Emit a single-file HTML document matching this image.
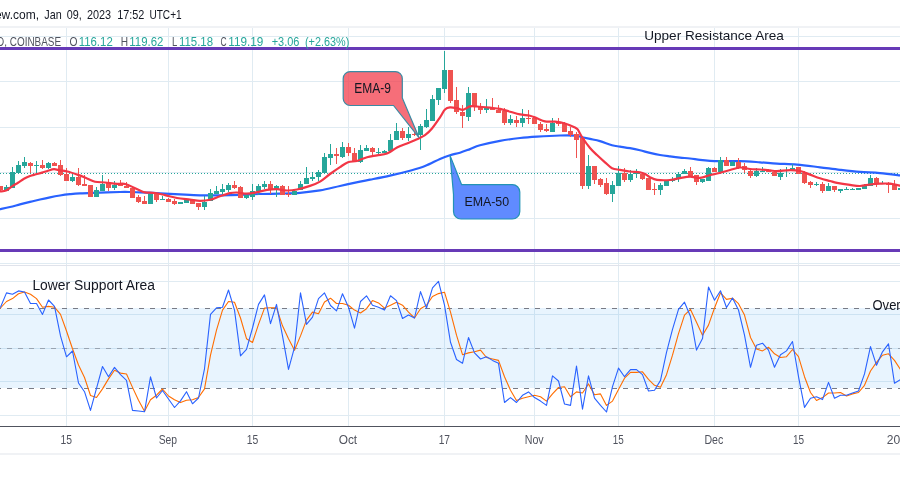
<!DOCTYPE html>
<html><head><meta charset="utf-8"><title>Chart</title>
<style>
html,body{margin:0;padding:0;background:#ffffff;width:900px;height:489px;overflow:hidden;}
svg{display:block;font-family:"Liberation Sans",sans-serif;will-change:transform;}
</style></head><body>
<svg width="900" height="489" viewBox="0 0 900 489" font-family="Liberation Sans, sans-serif" shape-rendering="crispEdges">
<rect x="0" y="0" width="900" height="489" fill="#ffffff"/>
<rect x="0" y="26" width="900" height="2" fill="#f0f2f5"/>
<rect x="66" y="28" width="1" height="398" fill="#e0ebf2"/>
<rect x="168" y="28" width="1" height="398" fill="#e0ebf2"/>
<rect x="252" y="28" width="1" height="398" fill="#e0ebf2"/>
<rect x="348" y="28" width="1" height="398" fill="#e0ebf2"/>
<rect x="444" y="28" width="1" height="398" fill="#e0ebf2"/>
<rect x="534" y="28" width="1" height="398" fill="#e0ebf2"/>
<rect x="618" y="28" width="1" height="398" fill="#e0ebf2"/>
<rect x="714" y="28" width="1" height="398" fill="#e0ebf2"/>
<rect x="798" y="28" width="1" height="398" fill="#e0ebf2"/>
<rect x="0" y="36" width="900" height="1" fill="#e0ebf2"/>
<rect x="0" y="81" width="900" height="1" fill="#e0ebf2"/>
<rect x="0" y="127" width="900" height="1" fill="#e0ebf2"/>
<rect x="0" y="172" width="900" height="1" fill="#e0ebf2"/>
<rect x="0" y="218" width="900" height="1" fill="#e0ebf2"/>
<rect x="0" y="263" width="900" height="1" fill="#e0ebf2"/>
<rect x="0" y="265" width="900" height="1" fill="#e0e3eb"/>
<rect x="0" y="281" width="900" height="1" fill="#e0ebf2"/>
<rect x="0" y="314" width="900" height="1" fill="#e0ebf2"/>
<rect x="0" y="348" width="900" height="1" fill="#e0ebf2"/>
<rect x="0" y="381" width="900" height="1" fill="#e0ebf2"/>
<rect x="0" y="415" width="900" height="1" fill="#e0ebf2"/>
<rect x="0" y="308" width="900" height="80" fill="#2196f3" fill-opacity="0.1"/>
<line x1="0" y1="308.5" x2="900" y2="308.5" stroke="#787b86" stroke-width="1" stroke-dasharray="5 6" stroke-dashoffset="4"/>
<line x1="0" y1="348.5" x2="900" y2="348.5" stroke="#787b86" stroke-opacity="0.6" stroke-width="1" stroke-dasharray="5 6" stroke-dashoffset="4"/>
<line x1="0" y1="388.5" x2="900" y2="388.5" stroke="#787b86" stroke-width="1" stroke-dasharray="5 6" stroke-dashoffset="4"/>
<rect x="0" y="426" width="900" height="1" fill="#50535e"/>
<rect x="0" y="453" width="900" height="2" fill="#f0f2f5"/>
<line x1="0" y1="173.5" x2="900" y2="173.5" stroke="#26a69a" stroke-width="1" stroke-dasharray="1 2" stroke-dashoffset="0"/>
<path d="M-2,209.6 C-1.67,209.53 -2.00,209.63 0,209.2 C2.00,208.77 6.67,207.80 10,207 C13.33,206.20 16.67,205.25 20,204.4 C23.33,203.55 26.67,202.72 30,201.9 C33.33,201.08 36.67,200.27 40,199.5 C43.33,198.73 46.67,197.97 50,197.3 C53.33,196.63 56.67,196.02 60,195.5 C63.33,194.98 66.67,194.55 70,194.2 C73.33,193.85 75.00,193.65 80,193.4 C85.00,193.15 93.33,192.93 100,192.7 C106.67,192.47 115.00,192.12 120,192 C125.00,191.88 126.67,191.93 130,192 C133.33,192.07 135.00,192.18 140,192.4 C145.00,192.62 153.33,192.97 160,193.3 C166.67,193.63 173.33,194.07 180,194.4 C186.67,194.73 193.33,195.15 200,195.3 C206.67,195.45 213.33,195.37 220,195.3 C226.67,195.23 233.33,195.12 240,194.9 C246.67,194.68 253.33,194.22 260,194 C266.67,193.78 273.33,193.80 280,193.6 C286.67,193.40 293.33,193.33 300,192.8 C306.67,192.27 313.33,191.53 320,190.4 C326.67,189.27 333.33,187.47 340,186 C346.67,184.53 355.00,182.65 360,181.6 C365.00,180.55 365.00,180.70 370,179.7 C375.00,178.70 383.33,177.10 390,175.6 C396.67,174.10 404.17,172.28 410,170.7 C415.83,169.12 420.00,168.07 425,166.1 C430.00,164.13 435.83,160.72 440,158.9 C444.17,157.08 446.67,156.23 450,155.2 C453.33,154.17 456.67,153.72 460,152.7 C463.33,151.68 466.67,150.33 470,149.1 C473.33,147.87 475.00,146.68 480,145.3 C485.00,143.92 493.33,142.02 500,140.8 C506.67,139.58 513.83,138.70 520,138 C526.17,137.30 530.33,137.02 537,136.6 C543.67,136.18 553.67,135.67 560,135.5 C566.33,135.33 571.33,135.32 575,135.6 C578.67,135.88 579.50,136.65 582,137.2 C584.50,137.75 587.00,138.25 590,138.9 C593.00,139.55 596.33,140.03 600,141.1 C603.67,142.17 608.67,144.38 612,145.3 C615.33,146.22 617.00,146.12 620,146.6 C623.00,147.08 626.67,147.58 630,148.2 C633.33,148.82 636.67,149.52 640,150.3 C643.33,151.08 646.67,152.12 650,152.9 C653.33,153.68 656.67,154.42 660,155 C663.33,155.58 666.67,155.97 670,156.4 C673.33,156.83 676.67,157.25 680,157.6 C683.33,157.95 686.67,158.12 690,158.5 C693.33,158.88 696.67,159.52 700,159.9 C703.33,160.28 706.67,160.60 710,160.8 C713.33,161.00 715.00,161.05 720,161.1 C725.00,161.15 733.33,160.90 740,161.1 C746.67,161.30 753.83,161.88 760,162.3 C766.17,162.72 770.83,163.22 777,163.6 C783.17,163.98 789.83,163.98 797,164.6 C804.17,165.22 812.83,166.43 820,167.3 C827.17,168.17 833.33,169.03 840,169.8 C846.67,170.57 853.33,171.35 860,171.9 C866.67,172.45 873.00,172.47 880,173.1 C887.00,173.73 898.33,175.27 902,175.7" stroke="#2962ff" stroke-width="2.2" fill="none" stroke-linejoin="round" shape-rendering="geometricPrecision"/>
<rect x="0" y="186" width="1" height="5" fill="#ef5350"/>
<rect x="-2" y="186" width="5" height="4" fill="#ef5350"/>
<rect x="6" y="185" width="1" height="6" fill="#26a69a"/>
<rect x="4" y="187" width="5" height="4" fill="#26a69a"/>
<rect x="12" y="167" width="1" height="21" fill="#26a69a"/>
<rect x="10" y="172" width="5" height="16" fill="#26a69a"/>
<rect x="18" y="161" width="1" height="12" fill="#26a69a"/>
<rect x="16" y="165" width="5" height="8" fill="#26a69a"/>
<rect x="24" y="157" width="1" height="11" fill="#26a69a"/>
<rect x="22" y="162" width="5" height="4" fill="#26a69a"/>
<rect x="30" y="162" width="1" height="11" fill="#ef5350"/>
<rect x="28" y="163" width="5" height="3" fill="#ef5350"/>
<rect x="36" y="161" width="1" height="12" fill="#26a69a"/>
<rect x="34" y="165" width="5" height="1" fill="#26a69a"/>
<rect x="42" y="160" width="1" height="9" fill="#ef5350"/>
<rect x="40" y="165" width="5" height="3" fill="#ef5350"/>
<rect x="48" y="162" width="1" height="7" fill="#26a69a"/>
<rect x="46" y="163" width="5" height="5" fill="#26a69a"/>
<rect x="54" y="162" width="1" height="4" fill="#ef5350"/>
<rect x="52" y="163" width="5" height="3" fill="#ef5350"/>
<rect x="60" y="160" width="1" height="16" fill="#ef5350"/>
<rect x="58" y="165" width="5" height="10" fill="#ef5350"/>
<rect x="66" y="168" width="1" height="13" fill="#ef5350"/>
<rect x="64" y="174" width="5" height="7" fill="#ef5350"/>
<rect x="72" y="174" width="1" height="8" fill="#26a69a"/>
<rect x="70" y="177" width="5" height="4" fill="#26a69a"/>
<rect x="78" y="168" width="1" height="18" fill="#ef5350"/>
<rect x="76" y="177" width="5" height="8" fill="#ef5350"/>
<rect x="84" y="175" width="1" height="11" fill="#ef5350"/>
<rect x="82" y="184" width="5" height="2" fill="#ef5350"/>
<rect x="90" y="185" width="1" height="12" fill="#ef5350"/>
<rect x="88" y="185" width="5" height="12" fill="#ef5350"/>
<rect x="96" y="187" width="1" height="10" fill="#26a69a"/>
<rect x="94" y="190" width="5" height="7" fill="#26a69a"/>
<rect x="102" y="175" width="1" height="16" fill="#26a69a"/>
<rect x="100" y="184" width="5" height="7" fill="#26a69a"/>
<rect x="108" y="179" width="1" height="12" fill="#ef5350"/>
<rect x="106" y="182" width="5" height="6" fill="#ef5350"/>
<rect x="114" y="181" width="1" height="9" fill="#26a69a"/>
<rect x="112" y="185" width="5" height="3" fill="#26a69a"/>
<rect x="120" y="180" width="1" height="6" fill="#ef5350"/>
<rect x="118" y="183" width="5" height="3" fill="#ef5350"/>
<rect x="126" y="182" width="1" height="6" fill="#ef5350"/>
<rect x="124" y="186" width="5" height="2" fill="#ef5350"/>
<rect x="132" y="187" width="1" height="11" fill="#ef5350"/>
<rect x="130" y="188" width="5" height="10" fill="#ef5350"/>
<rect x="138" y="195" width="1" height="8" fill="#ef5350"/>
<rect x="136" y="197" width="5" height="5" fill="#ef5350"/>
<rect x="144" y="196" width="1" height="8" fill="#ef5350"/>
<rect x="142" y="201" width="5" height="3" fill="#ef5350"/>
<rect x="150" y="194" width="1" height="10" fill="#26a69a"/>
<rect x="148" y="194" width="5" height="10" fill="#26a69a"/>
<rect x="156" y="194" width="1" height="8" fill="#ef5350"/>
<rect x="154" y="194" width="5" height="6" fill="#ef5350"/>
<rect x="162" y="196" width="1" height="4" fill="#26a69a"/>
<rect x="160" y="199" width="5" height="1" fill="#26a69a"/>
<rect x="168" y="198" width="1" height="4" fill="#ef5350"/>
<rect x="166" y="199" width="5" height="3" fill="#ef5350"/>
<rect x="174" y="199" width="1" height="6" fill="#ef5350"/>
<rect x="172" y="201" width="5" height="3" fill="#ef5350"/>
<rect x="180" y="202" width="1" height="2" fill="#26a69a"/>
<rect x="178" y="202" width="5" height="2" fill="#26a69a"/>
<rect x="186" y="200" width="1" height="3" fill="#26a69a"/>
<rect x="184" y="200" width="5" height="3" fill="#26a69a"/>
<rect x="192" y="200" width="1" height="4" fill="#ef5350"/>
<rect x="190" y="200" width="5" height="4" fill="#ef5350"/>
<rect x="198" y="203" width="1" height="7" fill="#ef5350"/>
<rect x="196" y="203" width="5" height="4" fill="#ef5350"/>
<rect x="204" y="196" width="1" height="14" fill="#26a69a"/>
<rect x="202" y="202" width="5" height="5" fill="#26a69a"/>
<rect x="210" y="189" width="1" height="12" fill="#26a69a"/>
<rect x="208" y="193" width="5" height="8" fill="#26a69a"/>
<rect x="216" y="186" width="1" height="8" fill="#26a69a"/>
<rect x="214" y="191" width="5" height="3" fill="#26a69a"/>
<rect x="222" y="184" width="1" height="10" fill="#26a69a"/>
<rect x="220" y="189" width="5" height="3" fill="#26a69a"/>
<rect x="228" y="183" width="1" height="9" fill="#26a69a"/>
<rect x="226" y="185" width="5" height="5" fill="#26a69a"/>
<rect x="234" y="181" width="1" height="8" fill="#ef5350"/>
<rect x="232" y="185" width="5" height="3" fill="#ef5350"/>
<rect x="240" y="186" width="1" height="12" fill="#ef5350"/>
<rect x="238" y="187" width="5" height="11" fill="#ef5350"/>
<rect x="246" y="195" width="1" height="4" fill="#26a69a"/>
<rect x="244" y="195" width="5" height="3" fill="#26a69a"/>
<rect x="252" y="184" width="1" height="16" fill="#26a69a"/>
<rect x="250" y="191" width="5" height="6" fill="#26a69a"/>
<rect x="258" y="184" width="1" height="11" fill="#26a69a"/>
<rect x="256" y="186" width="5" height="5" fill="#26a69a"/>
<rect x="264" y="181" width="1" height="8" fill="#26a69a"/>
<rect x="262" y="184" width="5" height="3" fill="#26a69a"/>
<rect x="270" y="181" width="1" height="13" fill="#ef5350"/>
<rect x="268" y="184" width="5" height="6" fill="#ef5350"/>
<rect x="276" y="185" width="1" height="12" fill="#26a69a"/>
<rect x="274" y="186" width="5" height="3" fill="#26a69a"/>
<rect x="282" y="185" width="1" height="10" fill="#ef5350"/>
<rect x="280" y="186" width="5" height="9" fill="#ef5350"/>
<rect x="288" y="186" width="1" height="11" fill="#ef5350"/>
<rect x="286" y="194" width="5" height="1" fill="#ef5350"/>
<rect x="294" y="189" width="1" height="6" fill="#26a69a"/>
<rect x="292" y="191" width="5" height="4" fill="#26a69a"/>
<rect x="300" y="181" width="1" height="9" fill="#26a69a"/>
<rect x="298" y="184" width="5" height="6" fill="#26a69a"/>
<rect x="306" y="167" width="1" height="17" fill="#26a69a"/>
<rect x="304" y="178" width="5" height="6" fill="#26a69a"/>
<rect x="312" y="172" width="1" height="9" fill="#26a69a"/>
<rect x="310" y="177" width="5" height="2" fill="#26a69a"/>
<rect x="318" y="170" width="1" height="11" fill="#26a69a"/>
<rect x="316" y="172" width="5" height="5" fill="#26a69a"/>
<rect x="324" y="153" width="1" height="20" fill="#26a69a"/>
<rect x="322" y="157" width="5" height="16" fill="#26a69a"/>
<rect x="330" y="144" width="1" height="21" fill="#26a69a"/>
<rect x="328" y="154" width="5" height="4" fill="#26a69a"/>
<rect x="336" y="148" width="1" height="16" fill="#ef5350"/>
<rect x="334" y="154" width="5" height="2" fill="#ef5350"/>
<rect x="342" y="142" width="1" height="16" fill="#26a69a"/>
<rect x="340" y="147" width="5" height="10" fill="#26a69a"/>
<rect x="348" y="143" width="1" height="13" fill="#ef5350"/>
<rect x="346" y="147" width="5" height="6" fill="#ef5350"/>
<rect x="354" y="148" width="1" height="13" fill="#ef5350"/>
<rect x="352" y="153" width="5" height="8" fill="#ef5350"/>
<rect x="360" y="145" width="1" height="18" fill="#26a69a"/>
<rect x="358" y="150" width="5" height="12" fill="#26a69a"/>
<rect x="366" y="145" width="1" height="6" fill="#26a69a"/>
<rect x="364" y="148" width="5" height="3" fill="#26a69a"/>
<rect x="372" y="147" width="1" height="8" fill="#ef5350"/>
<rect x="370" y="148" width="5" height="4" fill="#ef5350"/>
<rect x="378" y="148" width="1" height="6" fill="#26a69a"/>
<rect x="376" y="152" width="5" height="1" fill="#26a69a"/>
<rect x="384" y="150" width="1" height="3" fill="#26a69a"/>
<rect x="382" y="151" width="5" height="2" fill="#26a69a"/>
<rect x="390" y="134" width="1" height="17" fill="#26a69a"/>
<rect x="388" y="140" width="5" height="11" fill="#26a69a"/>
<rect x="396" y="123" width="1" height="17" fill="#26a69a"/>
<rect x="394" y="131" width="5" height="9" fill="#26a69a"/>
<rect x="402" y="128" width="1" height="12" fill="#ef5350"/>
<rect x="400" y="131" width="5" height="7" fill="#ef5350"/>
<rect x="408" y="127" width="1" height="14" fill="#26a69a"/>
<rect x="406" y="134" width="5" height="4" fill="#26a69a"/>
<rect x="414" y="132" width="1" height="4" fill="#ef5350"/>
<rect x="412" y="134" width="5" height="1" fill="#ef5350"/>
<rect x="420" y="124" width="1" height="26" fill="#26a69a"/>
<rect x="418" y="126" width="5" height="9" fill="#26a69a"/>
<rect x="426" y="109" width="1" height="19" fill="#26a69a"/>
<rect x="424" y="120" width="5" height="7" fill="#26a69a"/>
<rect x="432" y="95" width="1" height="26" fill="#26a69a"/>
<rect x="430" y="99" width="5" height="22" fill="#26a69a"/>
<rect x="438" y="88" width="1" height="17" fill="#26a69a"/>
<rect x="436" y="88" width="5" height="12" fill="#26a69a"/>
<rect x="444" y="51" width="1" height="42" fill="#26a69a"/>
<rect x="442" y="70" width="5" height="19" fill="#26a69a"/>
<rect x="450" y="70" width="1" height="33" fill="#ef5350"/>
<rect x="448" y="70" width="5" height="31" fill="#ef5350"/>
<rect x="456" y="87" width="1" height="27" fill="#ef5350"/>
<rect x="454" y="100" width="5" height="12" fill="#ef5350"/>
<rect x="462" y="105" width="1" height="23" fill="#ef5350"/>
<rect x="460" y="112" width="5" height="4" fill="#ef5350"/>
<rect x="468" y="87" width="1" height="34" fill="#26a69a"/>
<rect x="466" y="93" width="5" height="24" fill="#26a69a"/>
<rect x="474" y="93" width="1" height="18" fill="#ef5350"/>
<rect x="472" y="93" width="5" height="14" fill="#ef5350"/>
<rect x="480" y="103" width="1" height="11" fill="#ef5350"/>
<rect x="478" y="106" width="5" height="4" fill="#ef5350"/>
<rect x="486" y="99" width="1" height="14" fill="#26a69a"/>
<rect x="484" y="108" width="5" height="2" fill="#26a69a"/>
<rect x="492" y="98" width="1" height="12" fill="#ef5350"/>
<rect x="490" y="108" width="5" height="2" fill="#ef5350"/>
<rect x="498" y="105" width="1" height="8" fill="#ef5350"/>
<rect x="496" y="110" width="5" height="3" fill="#ef5350"/>
<rect x="504" y="108" width="1" height="17" fill="#ef5350"/>
<rect x="502" y="111" width="5" height="12" fill="#ef5350"/>
<rect x="510" y="115" width="1" height="10" fill="#26a69a"/>
<rect x="508" y="119" width="5" height="4" fill="#26a69a"/>
<rect x="516" y="116" width="1" height="11" fill="#ef5350"/>
<rect x="514" y="120" width="5" height="3" fill="#ef5350"/>
<rect x="522" y="109" width="1" height="18" fill="#26a69a"/>
<rect x="520" y="118" width="5" height="5" fill="#26a69a"/>
<rect x="528" y="110" width="1" height="14" fill="#ef5350"/>
<rect x="526" y="118" width="5" height="1" fill="#ef5350"/>
<rect x="534" y="118" width="1" height="6" fill="#ef5350"/>
<rect x="532" y="118" width="5" height="6" fill="#ef5350"/>
<rect x="540" y="122" width="1" height="10" fill="#ef5350"/>
<rect x="538" y="124" width="5" height="6" fill="#ef5350"/>
<rect x="546" y="124" width="1" height="8" fill="#ef5350"/>
<rect x="544" y="129" width="5" height="2" fill="#ef5350"/>
<rect x="552" y="118" width="1" height="14" fill="#26a69a"/>
<rect x="550" y="123" width="5" height="9" fill="#26a69a"/>
<rect x="558" y="118" width="1" height="8" fill="#ef5350"/>
<rect x="556" y="123" width="5" height="1" fill="#ef5350"/>
<rect x="564" y="122" width="1" height="10" fill="#ef5350"/>
<rect x="562" y="124" width="5" height="8" fill="#ef5350"/>
<rect x="570" y="127" width="1" height="10" fill="#ef5350"/>
<rect x="568" y="131" width="5" height="4" fill="#ef5350"/>
<rect x="576" y="132" width="1" height="26" fill="#ef5350"/>
<rect x="574" y="134" width="5" height="6" fill="#ef5350"/>
<rect x="582" y="136" width="1" height="53" fill="#ef5350"/>
<rect x="580" y="138" width="5" height="48" fill="#ef5350"/>
<rect x="588" y="155" width="1" height="34" fill="#26a69a"/>
<rect x="586" y="166" width="5" height="20" fill="#26a69a"/>
<rect x="594" y="166" width="1" height="18" fill="#ef5350"/>
<rect x="592" y="166" width="5" height="14" fill="#ef5350"/>
<rect x="600" y="178" width="1" height="9" fill="#ef5350"/>
<rect x="598" y="179" width="5" height="6" fill="#ef5350"/>
<rect x="606" y="178" width="1" height="17" fill="#ef5350"/>
<rect x="604" y="183" width="5" height="11" fill="#ef5350"/>
<rect x="612" y="181" width="1" height="21" fill="#26a69a"/>
<rect x="610" y="185" width="5" height="9" fill="#26a69a"/>
<rect x="618" y="166" width="1" height="20" fill="#26a69a"/>
<rect x="616" y="173" width="5" height="13" fill="#26a69a"/>
<rect x="624" y="168" width="1" height="14" fill="#ef5350"/>
<rect x="622" y="173" width="5" height="7" fill="#ef5350"/>
<rect x="630" y="170" width="1" height="12" fill="#26a69a"/>
<rect x="628" y="174" width="5" height="6" fill="#26a69a"/>
<rect x="636" y="169" width="1" height="9" fill="#26a69a"/>
<rect x="634" y="172" width="5" height="2" fill="#26a69a"/>
<rect x="642" y="173" width="1" height="7" fill="#ef5350"/>
<rect x="640" y="174" width="5" height="5" fill="#ef5350"/>
<rect x="648" y="178" width="1" height="12" fill="#ef5350"/>
<rect x="646" y="178" width="5" height="12" fill="#ef5350"/>
<rect x="654" y="183" width="1" height="12" fill="#ef5350"/>
<rect x="652" y="189" width="5" height="1" fill="#ef5350"/>
<rect x="660" y="183" width="1" height="12" fill="#26a69a"/>
<rect x="658" y="185" width="5" height="5" fill="#26a69a"/>
<rect x="666" y="180" width="1" height="6" fill="#26a69a"/>
<rect x="664" y="181" width="5" height="5" fill="#26a69a"/>
<rect x="672" y="177" width="1" height="5" fill="#26a69a"/>
<rect x="670" y="179" width="5" height="2" fill="#26a69a"/>
<rect x="678" y="172" width="1" height="10" fill="#26a69a"/>
<rect x="676" y="174" width="5" height="4" fill="#26a69a"/>
<rect x="684" y="169" width="1" height="5" fill="#26a69a"/>
<rect x="682" y="171" width="5" height="3" fill="#26a69a"/>
<rect x="690" y="167" width="1" height="9" fill="#ef5350"/>
<rect x="688" y="171" width="5" height="5" fill="#ef5350"/>
<rect x="696" y="175" width="1" height="10" fill="#ef5350"/>
<rect x="694" y="175" width="5" height="7" fill="#ef5350"/>
<rect x="702" y="179" width="1" height="4" fill="#26a69a"/>
<rect x="700" y="179" width="5" height="3" fill="#26a69a"/>
<rect x="708" y="167" width="1" height="14" fill="#26a69a"/>
<rect x="706" y="168" width="5" height="13" fill="#26a69a"/>
<rect x="714" y="167" width="1" height="5" fill="#ef5350"/>
<rect x="712" y="168" width="5" height="4" fill="#ef5350"/>
<rect x="720" y="157" width="1" height="15" fill="#26a69a"/>
<rect x="718" y="160" width="5" height="12" fill="#26a69a"/>
<rect x="726" y="157" width="1" height="9" fill="#ef5350"/>
<rect x="724" y="160" width="5" height="6" fill="#ef5350"/>
<rect x="732" y="161" width="1" height="5" fill="#26a69a"/>
<rect x="730" y="162" width="5" height="4" fill="#26a69a"/>
<rect x="738" y="158" width="1" height="11" fill="#ef5350"/>
<rect x="736" y="162" width="5" height="6" fill="#ef5350"/>
<rect x="744" y="163" width="1" height="10" fill="#ef5350"/>
<rect x="742" y="166" width="5" height="4" fill="#ef5350"/>
<rect x="750" y="170" width="1" height="8" fill="#ef5350"/>
<rect x="748" y="171" width="5" height="5" fill="#ef5350"/>
<rect x="756" y="168" width="1" height="9" fill="#26a69a"/>
<rect x="754" y="171" width="5" height="5" fill="#26a69a"/>
<rect x="762" y="167" width="1" height="5" fill="#26a69a"/>
<rect x="760" y="171" width="5" height="1" fill="#26a69a"/>
<rect x="768" y="169" width="1" height="3" fill="#ef5350"/>
<rect x="766" y="170" width="5" height="2" fill="#ef5350"/>
<rect x="774" y="172" width="1" height="4" fill="#ef5350"/>
<rect x="772" y="172" width="5" height="4" fill="#ef5350"/>
<rect x="780" y="169" width="1" height="11" fill="#26a69a"/>
<rect x="778" y="173" width="5" height="4" fill="#26a69a"/>
<rect x="786" y="167" width="1" height="10" fill="#26a69a"/>
<rect x="784" y="170" width="5" height="1" fill="#26a69a"/>
<rect x="792" y="164" width="1" height="6" fill="#26a69a"/>
<rect x="790" y="168" width="5" height="2" fill="#26a69a"/>
<rect x="798" y="167" width="1" height="7" fill="#ef5350"/>
<rect x="796" y="167" width="5" height="7" fill="#ef5350"/>
<rect x="804" y="171" width="1" height="13" fill="#ef5350"/>
<rect x="802" y="173" width="5" height="10" fill="#ef5350"/>
<rect x="810" y="181" width="1" height="7" fill="#ef5350"/>
<rect x="808" y="182" width="5" height="3" fill="#ef5350"/>
<rect x="816" y="182" width="1" height="4" fill="#26a69a"/>
<rect x="814" y="184" width="5" height="1" fill="#26a69a"/>
<rect x="822" y="182" width="1" height="11" fill="#ef5350"/>
<rect x="820" y="184" width="5" height="7" fill="#ef5350"/>
<rect x="828" y="183" width="1" height="8" fill="#26a69a"/>
<rect x="826" y="186" width="5" height="5" fill="#26a69a"/>
<rect x="834" y="186" width="1" height="6" fill="#ef5350"/>
<rect x="832" y="186" width="5" height="4" fill="#ef5350"/>
<rect x="840" y="189" width="1" height="4" fill="#26a69a"/>
<rect x="838" y="189" width="5" height="2" fill="#26a69a"/>
<rect x="846" y="187" width="1" height="3" fill="#26a69a"/>
<rect x="844" y="189" width="5" height="1" fill="#26a69a"/>
<rect x="852" y="188" width="1" height="2" fill="#26a69a"/>
<rect x="850" y="189" width="5" height="1" fill="#26a69a"/>
<rect x="858" y="188" width="1" height="2" fill="#26a69a"/>
<rect x="856" y="188" width="5" height="2" fill="#26a69a"/>
<rect x="864" y="184" width="1" height="5" fill="#26a69a"/>
<rect x="862" y="186" width="5" height="3" fill="#26a69a"/>
<rect x="870" y="175" width="1" height="11" fill="#26a69a"/>
<rect x="868" y="178" width="5" height="8" fill="#26a69a"/>
<rect x="876" y="177" width="1" height="10" fill="#ef5350"/>
<rect x="874" y="178" width="5" height="6" fill="#ef5350"/>
<rect x="882" y="181" width="1" height="3" fill="#26a69a"/>
<rect x="880" y="183" width="5" height="1" fill="#26a69a"/>
<rect x="888" y="182" width="1" height="11" fill="#ef5350"/>
<rect x="886" y="184" width="5" height="1" fill="#ef5350"/>
<rect x="894" y="180" width="1" height="10" fill="#ef5350"/>
<rect x="892" y="184" width="5" height="6" fill="#ef5350"/>
<rect x="900" y="188" width="1" height="2" fill="#26a69a"/>
<rect x="898" y="188" width="5" height="2" fill="#26a69a"/>
<g shape-rendering="geometricPrecision" fill="none" stroke-linejoin="round" stroke-linecap="round">
<path d="M-2,192 C-1.67,191.90 -1.33,191.63 0,191.4 C1.33,191.17 4.00,191.45 6,190.6 C8.00,189.75 10.00,187.62 12,186.3 C14.00,184.98 16.00,183.95 18,182.7 C20.00,181.45 22.00,179.92 24,178.8 C26.00,177.68 28.00,176.75 30,176 C32.00,175.25 34.00,174.87 36,174.3 C38.00,173.73 40.00,173.20 42,172.6 C44.00,172.00 46.00,171.27 48,170.7 C50.00,170.13 52.00,169.25 54,169.2 C56.00,169.15 57.92,170.05 60,170.4 C62.08,170.75 63.50,170.55 66.5,171.3 C69.50,172.05 74.58,173.72 78,174.9 C81.42,176.08 84.17,177.27 87,178.4 C89.83,179.53 92.00,181.02 95,181.7 C98.00,182.38 101.33,182.15 105,182.5 C108.67,182.85 113.50,183.52 117,183.8 C120.50,184.08 122.17,183.08 126,184.2 C129.83,185.32 136.83,189.15 140,190.5 C143.17,191.85 142.50,191.88 145,192.3 C147.50,192.72 151.67,192.53 155,193 C158.33,193.47 161.33,194.27 165,195.1 C168.67,195.93 172.83,197.25 177,198 C181.17,198.75 186.17,199.13 190,199.6 C193.83,200.07 196.67,200.77 200,200.8 C203.33,200.83 206.67,200.57 210,199.8 C213.33,199.03 216.67,197.32 220,196.2 C223.33,195.08 227.17,193.72 230,193.1 C232.83,192.48 234.17,192.40 237,192.5 C239.83,192.60 243.67,193.75 247,193.7 C250.33,193.65 253.67,192.83 257,192.2 C260.33,191.57 263.67,190.42 267,189.9 C270.33,189.38 273.67,189.00 277,189.1 C280.33,189.20 283.67,190.43 287,190.5 C290.33,190.57 293.17,190.27 297,189.5 C300.83,188.73 306.17,187.22 310,185.9 C313.83,184.58 316.67,183.58 320,181.6 C323.33,179.62 326.67,176.42 330,174 C333.33,171.58 337.00,169.07 340,167.1 C343.00,165.13 345.17,163.22 348,162.2 C350.83,161.18 353.83,161.83 357,161 C360.17,160.17 363.67,158.13 367,157.2 C370.33,156.27 373.67,156.00 377,155.4 C380.33,154.80 383.67,154.93 387,153.6 C390.33,152.27 393.67,149.10 397,147.4 C400.33,145.70 403.67,144.75 407,143.4 C410.33,142.05 414.00,140.67 417,139.3 C420.00,137.93 422.50,137.00 425,135.2 C427.50,133.40 429.50,131.47 432,128.5 C434.50,125.53 437.83,120.57 440,117.4 C442.17,114.23 443.33,111.17 445,109.5 C446.67,107.83 448.00,107.62 450,107.4 C452.00,107.18 454.83,107.80 457,108.2 C459.17,108.60 460.83,110.10 463,109.8 C465.17,109.50 467.67,106.95 470,106.4 C472.33,105.85 473.67,106.28 477,106.5 C480.33,106.72 486.17,107.30 490,107.7 C493.83,108.10 496.67,108.23 500,108.9 C503.33,109.57 506.67,110.78 510,111.7 C513.33,112.62 516.67,113.73 520,114.4 C523.33,115.07 527.17,115.05 530,115.7 C532.83,116.35 534.50,117.35 537,118.3 C539.50,119.25 542.00,120.83 545,121.4 C548.00,121.97 551.67,121.35 555,121.7 C558.33,122.05 561.67,122.53 565,123.5 C568.33,124.47 572.83,126.43 575,127.5 C577.17,128.57 576.83,128.32 578,129.9 C579.17,131.48 580.00,133.98 582,137 C584.00,140.02 587.50,145.00 590,148 C592.50,151.00 594.50,152.62 597,155 C599.50,157.38 602.50,160.10 605,162.3 C607.50,164.50 609.50,166.93 612,168.2 C614.50,169.47 617.00,169.35 620,169.9 C623.00,170.45 626.67,171.10 630,171.5 C633.33,171.90 637.50,171.90 640,172.3 C642.50,172.70 643.33,173.08 645,173.9 C646.67,174.72 648.00,176.22 650,177.2 C652.00,178.18 653.67,179.33 657,179.8 C660.33,180.27 666.17,180.28 670,180 C673.83,179.72 676.67,178.65 680,178.1 C683.33,177.55 686.67,176.73 690,176.7 C693.33,176.67 696.67,178.17 700,177.9 C703.33,177.63 707.17,175.83 710,175.1 C712.83,174.37 713.67,174.35 717,173.5 C720.33,172.65 726.17,171.00 730,170 C733.83,169.00 736.67,167.67 740,167.5 C743.33,167.33 746.67,168.67 750,169 C753.33,169.33 756.67,169.27 760,169.5 C763.33,169.73 767.17,170.12 770,170.4 C772.83,170.68 773.67,171.25 777,171.2 C780.33,171.15 786.17,170.13 790,170.1 C793.83,170.07 796.67,170.25 800,171 C803.33,171.75 806.67,173.38 810,174.6 C813.33,175.82 816.67,177.23 820,178.3 C823.33,179.37 827.17,180.25 830,181 C832.83,181.75 833.67,182.15 837,182.8 C840.33,183.45 846.17,184.37 850,184.9 C853.83,185.43 856.67,186.07 860,186 C863.33,185.93 866.67,184.88 870,184.5 C873.33,184.12 876.67,183.83 880,183.7 C883.33,183.57 886.33,183.28 890,183.7 C893.67,184.12 900.00,185.78 902,186.2" stroke="#f23645" stroke-width="2.2"/>
<polyline points="0.5,308 6.5,301.5 12.5,298.6 18.5,293.8 24.5,292 30.5,294.3 36.5,298.6 42.5,307.2 48.5,306.4 54.5,307.2 60.5,314.4 66.5,331 72.5,348.8 78.5,365 84.5,377.5 90.5,395.5 96.5,397.5 102.5,388.9 108.5,378.9 114.5,370.3 120.5,373.1 126.5,374 132.5,387.4 138.5,400.3 144.5,411.2 150.5,399.8 156.5,395.2 162.5,389 168.5,396 174.5,399.8 180.5,402.6 186.5,400.3 192.5,399.8 198.5,397.5 204.5,388.9 210.5,355.1 216.5,330.1 222.5,310.1 228.5,301.5 234.5,302.3 240.5,318 246.5,338.7 252.5,342.5 258.5,324.4 264.5,308.1 270.5,307.8 276.5,307.8 282.5,325.8 288.5,338.7 294.5,350.2 300.5,335.9 306.5,320.1 312.5,312.1 318.5,313.8 324.5,302 330.5,298.2 336.5,303.5 342.5,303.5 348.5,305.2 354.5,310.1 360.5,313 366.5,308.7 372.5,300.6 378.5,302.9 384.5,308.1 390.5,305.2 396.5,302.3 402.5,305.2 408.5,312.2 414.5,318 420.5,308.8 426.5,305.1 432.5,296.5 438.5,293.6 444.5,292.2 450.5,312.2 456.5,335.2 462.5,354.7 468.5,352.9 474.5,351.8 480.5,350.1 486.5,357.5 492.5,359 498.5,360.4 504.5,376.7 510.5,390.2 516.5,400.5 522.5,398.2 528.5,396.8 534.5,395.3 540.5,396.8 546.5,401.1 552.5,393.9 558.5,387.5 564.5,386.7 570.5,396.8 576.5,391.9 582.5,393 588.5,383.9 594.5,394.8 600.5,393.9 606.5,405.4 612.5,401.1 618.5,389.6 624.5,378.2 630.5,372.4 636.5,372.4 642.5,371.8 648.5,379.3 654.5,385.3 660.5,387.3 666.5,374.7 672.5,355.2 678.5,333.7 684.5,315.1 690.5,309.4 696.5,322.3 702.5,335.2 708.5,325.1 714.5,308 720.5,292.8 726.5,299.4 732.5,298.2 738.5,303.7 744.5,315.1 750.5,337.5 756.5,348.9 762.5,350.9 768.5,347.2 774.5,353.8 780.5,357.5 786.5,356.7 792.5,349.5 798.5,356.7 804.5,376.7 810.5,392.5 816.5,400.5 822.5,397.6 828.5,393 834.5,393 840.5,392.5 846.5,395.9 852.5,393.9 858.5,392.5 864.5,385.3 870.5,371 876.5,362.4 882.5,355.2 888.5,353.8 894.5,360.4 900.5,369.6" stroke="#ff6d00" stroke-width="1.1"/>
<polyline points="0.5,307.2 6.5,292.9 12.5,294.3 18.5,290.9 24.5,292 30.5,303.5 36.5,303.5 42.5,314.4 48.5,300 54.5,306.4 60.5,335.9 66.5,356.8 72.5,351 78.5,383 84.5,391.7 90.5,410.4 96.5,388.3 102.5,366.5 108.5,376.8 114.5,367.4 120.5,374.6 126.5,380.3 132.5,410.4 138.5,411 144.5,411.8 150.5,376.8 156.5,398 162.5,390.5 168.5,399 174.5,407.5 180.5,400.9 186.5,391.7 192.5,403.8 198.5,398 204.5,368.8 210.5,314.4 216.5,307.8 222.5,307.2 228.5,290 234.5,310.1 240.5,355.9 246.5,349.3 252.5,328 258.5,304.4 264.5,294.9 270.5,323.6 276.5,304.4 282.5,335.9 288.5,369.4 294.5,347.3 300.5,292.9 306.5,324.4 312.5,317.2 318.5,298.6 324.5,292.9 330.5,305.5 336.5,310.9 342.5,293.8 348.5,307.2 354.5,328.1 360.5,301.5 366.5,295.8 372.5,305.2 378.5,307.2 384.5,310.1 390.5,295.8 396.5,300.6 402.5,318.5 408.5,315 414.5,318 420.5,291.6 426.5,308 432.5,287.9 438.5,281.3 444.5,305.1 450.5,342.3 456.5,359.5 462.5,363.3 468.5,337.5 474.5,352.9 480.5,359 486.5,356.7 492.5,360.4 498.5,363.3 504.5,402.5 510.5,397.6 516.5,402.5 522.5,395.3 528.5,391.9 534.5,397.6 540.5,401.1 546.5,405.4 552.5,375.9 558.5,381 564.5,404 570.5,405.4 576.5,366.1 582.5,409.1 588.5,375.9 594.5,398.2 600.5,405.4 606.5,412 612.5,386.7 618.5,368.1 624.5,376.7 630.5,369.6 636.5,369.6 642.5,374.6 648.5,391 654.5,390.2 660.5,380.4 666.5,352.4 672.5,329.4 678.5,309.4 684.5,302.2 690.5,316.5 696.5,350.1 702.5,338.6 708.5,287 714.5,300.2 720.5,290.8 726.5,307.5 732.5,298 738.5,310 744.5,335.2 750.5,367.3 756.5,345.2 762.5,343.2 768.5,350.1 774.5,367.3 780.5,354.7 786.5,350.9 792.5,341.5 798.5,376.7 804.5,407.4 810.5,398.2 816.5,396.8 822.5,399.6 828.5,382.4 834.5,398.2 840.5,395.3 846.5,395.3 852.5,393 858.5,391 864.5,373.9 870.5,346.6 876.5,365.3 882.5,351.8 888.5,343.8 894.5,383.3 900.5,379.6" stroke="#2962ff" stroke-width="1.1"/>
</g>
<rect x="0" y="47" width="900" height="3" fill="#673ab7"/>
<rect x="0" y="249" width="900" height="3" fill="#673ab7"/>
<g shape-rendering="geometricPrecision">
<path d="M350.2,71.6 H395.3 A7,7 0 0 1 402.3,78.6 V98 L419,137.6 L393.5,105.5 H350.2 A7,7 0 0 1 343.2,98.5 V78.6 A7,7 0 0 1 350.2,71.6 Z" fill="#f23645" fill-opacity="0.72" stroke="#3a8aa3" stroke-width="1.2"/>
<path d="M450.1,155.6 L461.6,184.6 H512.3 A7.5,7.5 0 0 1 519.8,192.1 V211.5 A7.5,7.5 0 0 1 512.3,219 H461 A7.5,7.5 0 0 1 453.5,211.5 V194.5 Z" fill="#2962ff" fill-opacity="0.74" stroke="#2393b5" stroke-width="1.2"/>
</g>
<g shape-rendering="geometricPrecision">
<text x="-5.06363" y="19" font-size="12.8" fill="#131722" textLength="44.0843" lengthAdjust="spacingAndGlyphs">ew.com,</text>
<text x="44.3" y="19" font-size="12.8" fill="#131722" textLength="17.4236" lengthAdjust="spacingAndGlyphs">Jan</text>
<text x="66.7" y="19" font-size="12.8" fill="#131722" textLength="15" lengthAdjust="spacingAndGlyphs">09,</text>
<text x="87" y="19" font-size="12.8" fill="#131722" textLength="24.1475" lengthAdjust="spacingAndGlyphs">2023</text>
<text x="117.2" y="19" font-size="12.8" fill="#131722" textLength="27.2238" lengthAdjust="spacingAndGlyphs">17:52</text>
<text x="149.4" y="19" font-size="12.8" fill="#131722" textLength="32.2527" lengthAdjust="spacingAndGlyphs">UTC+1</text>
<text x="-2.87926" y="46.1" font-size="12.5" fill="#50535e" textLength="63.9607" lengthAdjust="spacingAndGlyphs">D, COINBASE</text>
<text x="69.6" y="46.1" font-size="12.5" fill="#50535e" textLength="7.97756" lengthAdjust="spacingAndGlyphs">O</text>
<text x="78.7" y="46.1" font-size="12.5" fill="#26a69a" textLength="34.0464" lengthAdjust="spacingAndGlyphs">116.12</text>
<text x="120.7" y="46.1" font-size="12.5" fill="#50535e" textLength="7.32218" lengthAdjust="spacingAndGlyphs">H</text>
<text x="129.3" y="46.1" font-size="12.5" fill="#26a69a" textLength="34.0464" lengthAdjust="spacingAndGlyphs">119.62</text>
<text x="171.9" y="46.1" font-size="12.5" fill="#50535e" textLength="5.26303" lengthAdjust="spacingAndGlyphs">L</text>
<text x="178.9" y="46.1" font-size="12.5" fill="#26a69a" textLength="34.1465" lengthAdjust="spacingAndGlyphs">115.18</text>
<text x="220.6" y="46.1" font-size="12.5" fill="#50535e" textLength="6.11853" lengthAdjust="spacingAndGlyphs">C</text>
<text x="228.3" y="46.1" font-size="12.5" fill="#26a69a" textLength="35.0477" lengthAdjust="spacingAndGlyphs">119.19</text>
<text x="271.7" y="46.1" font-size="12.5" fill="#26a69a" textLength="27.7017" lengthAdjust="spacingAndGlyphs">+3.06</text>
<text x="305" y="46.1" font-size="12.5" fill="#26a69a" textLength="44.3491" lengthAdjust="spacingAndGlyphs">(+2.63%)</text>
<text x="644.2" y="39.5" font-size="13.5" fill="#131722" textLength="139.7" lengthAdjust="spacingAndGlyphs">Upper Resistance Area</text>
<text x="32.4" y="290" font-size="14" fill="#131722" textLength="122.576" lengthAdjust="spacingAndGlyphs">Lower Support Area</text>
<text x="872.5" y="309.6" font-size="14" fill="#131722" textLength="28.2127" lengthAdjust="spacingAndGlyphs">Over</text>
<text x="354.2" y="93.2" font-size="14.3" fill="#131722" textLength="36.6532" lengthAdjust="spacingAndGlyphs">EMA-9</text>
<text x="464.4" y="205.7" font-size="13.4" fill="#131722" textLength="44.7271" lengthAdjust="spacingAndGlyphs">EMA-50</text>
<text x="60.4" y="443.8" font-size="12.6" fill="#50535e" textLength="11.5227" lengthAdjust="spacingAndGlyphs">15</text>
<text x="158.7" y="443.8" font-size="12.6" fill="#50535e" textLength="18.3919" lengthAdjust="spacingAndGlyphs">Sep</text>
<text x="246.8" y="443.8" font-size="12.6" fill="#50535e" textLength="11.5227" lengthAdjust="spacingAndGlyphs">15</text>
<text x="338.7" y="443.8" font-size="12.6" fill="#50535e" textLength="18.4481" lengthAdjust="spacingAndGlyphs">Oct</text>
<text x="438.7" y="443.8" font-size="12.6" fill="#50535e" textLength="11.3223" lengthAdjust="spacingAndGlyphs">17</text>
<text x="524.7" y="443.8" font-size="12.6" fill="#50535e" textLength="18.9817" lengthAdjust="spacingAndGlyphs">Nov</text>
<text x="612.7" y="443.8" font-size="12.6" fill="#50535e" textLength="11.0217" lengthAdjust="spacingAndGlyphs">15</text>
<text x="704.4" y="443.8" font-size="12.6" fill="#50535e" textLength="18.8818" lengthAdjust="spacingAndGlyphs">Dec</text>
<text x="792.9" y="443.8" font-size="12.6" fill="#50535e" textLength="11.1219" lengthAdjust="spacingAndGlyphs">15</text>
<text x="886.7" y="443.8" font-size="12.6" fill="#50535e" textLength="26.8528" lengthAdjust="spacingAndGlyphs">2023</text>
</g>
</svg>
</body></html>
